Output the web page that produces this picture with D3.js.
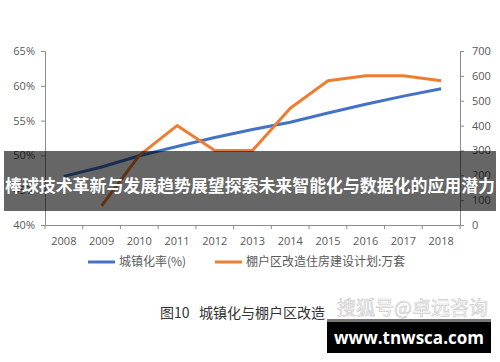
<!DOCTYPE html>
<html><head><meta charset="utf-8">
<script src="https://cdn.jsdelivr.net/npm/d3@7/dist/d3.min.js"></script>
<style>body{margin:0;background:#fff}svg{display:block}</style>
</head><body>
<svg id="c" width="500" height="362"></svg>
<script>
const years = ["2008","2009","2010","2011","2012","2013","2014","2015","2016","2017","2018"];
const urbanRate = [46.99,48.34,49.95,51.27,52.57,53.73,54.77,56.10,57.35,58.52,59.58];
const shantyPlan = [null,77,280,400,300,300,470,580,600,600,580];
const leftTicks = [40,45,50,55,60,65];
const rightTicks = [0,100,200,300,400,500,600,700];
const seriesNames = ["城镇化率(%)","棚户区改造住房建设计划:万套"];
const title = "棒球技术革新与发展趋势展望探索未来智能化与数据化的应用潜力";
const caption = "图10   城镇化与棚户区改造";
const watermark = "搜狐号@卓远咨询";
const site = "www.tnwsca.com";

const svg = d3.select("#c");
const font = "'Noto Sans CJK SC','Noto Sans',sans-serif";
const L = 45, R = 460, T = 51, B = 225;
const axisColor = "#8c8c8c", textColor = "#595959";

const x = d3.scaleBand().domain(years).range([L, R]);
const yL = d3.scaleLinear().domain([40,65]).range([B, T]);
const yR = d3.scaleLinear().domain([0,700]).range([B, T]);

function styleAxis(g){
  g.selectAll("path,line").attr("stroke", axisColor);
  g.selectAll("text").attr("fill", textColor).attr("font-size", 11).attr("font-family", "'Open Sans','DejaVu Sans',sans-serif");
}
svg.append("g").attr("transform",`translate(${L},0)`)
  .call(d3.axisLeft(yL).tickValues(leftTicks).tickFormat(d=>d+"%").tickSizeOuter(0).tickSize(4).tickPadding(6))
  .call(styleAxis);
svg.append("g").attr("transform",`translate(${R},0)`)
  .call(d3.axisRight(yR).tickValues(rightTicks).tickSizeOuter(0).tickSize(4).tickPadding(8))
  .call(styleAxis);
const xg = svg.append("g").attr("transform",`translate(0,${B})`)
  .call(d3.axisBottom(x).tickSize(0).tickPadding(12))
  .call(styleAxis);
xg.selectAll(".bt").data(years.concat(["end"])).enter().append("line")
  .attr("x1",(d,i)=>L + i*x.step()).attr("x2",(d,i)=>L + i*x.step())
  .attr("y1",0).attr("y2",4).attr("stroke",axisColor);

const cx = d => x(d) + x.bandwidth()/2;
const lineL = d3.line().x((d,i)=>cx(years[i])).y(d=>yL(d));
const lineR = d3.line().defined(d=>d!=null).x((d,i)=>cx(years[i])).y(d=>yR(d));
svg.append("path").attr("d", lineL(urbanRate)).attr("fill","none").attr("stroke","#4472c4").attr("stroke-width",3).attr("stroke-linejoin","round");
svg.append("path").attr("d", lineR(shantyPlan)).attr("fill","none").attr("stroke","#ed7d31").attr("stroke-width",3).attr("stroke-linejoin","round");

const lg = svg.append("g");
lg.append("line").attr("x1",88).attr("x2",115).attr("y1",262).attr("y2",262).attr("stroke","#4472c4").attr("stroke-width",3);
lg.append("text").attr("x",119).attr("y",266).text(seriesNames[0]).attr("font-size",12).attr("fill",textColor).attr("font-family",font);
lg.append("line").attr("x1",215).attr("x2",242).attr("y1",262).attr("y2",262).attr("stroke","#ed7d31").attr("stroke-width",3);
lg.append("text").attr("x",246).attr("y",266).text(seriesNames[1]).attr("font-size",12).attr("fill",textColor).attr("font-family",font);

svg.append("text").attr("x",160).attr("y",318).text(caption).attr("font-size",14).attr("fill","#333").attr("font-family",font).style("white-space","pre");

svg.append("text").attr("x",337).attr("y",315).text(watermark).attr("font-size",19).attr("fill","#fff").attr("stroke","#ccc").attr("stroke-width",0.7).attr("font-family",font);
svg.append("rect").attr("x",327).attr("y",319).attr("width",164).attr("height",3).attr("fill","#777");
svg.append("rect").attr("x",327).attr("y",322).attr("width",164).attr("height",31).attr("fill","#000");
svg.append("text").attr("x",409).attr("y",344).attr("text-anchor","middle").text(site).attr("font-size",17).attr("font-weight","bold").attr("fill","#fff").attr("font-family","'Open Sans','DejaVu Sans',sans-serif");

svg.append("rect").attr("x",4).attr("y",151).attr("width",492).attr("height",60).attr("fill","rgba(0,0,0,0.6)");
svg.append("text").attr("x",250).attr("y",192).attr("text-anchor","middle").text(title).attr("font-size",17).attr("font-weight","bold").attr("fill","#fff").attr("font-family",font).attr("textLength",490).attr("lengthAdjust","spacingAndGlyphs");
</script>
</body></html>
